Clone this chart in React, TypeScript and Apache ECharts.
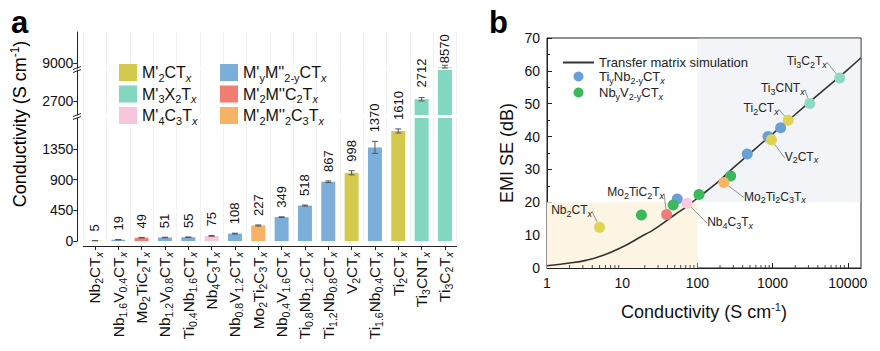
import React, { useEffect, useRef } from 'react';
import * as echarts from 'echarts';

const FONT = '"Liberation Sans", Arial, Helvetica, sans-serif';

// ---------- Panel a data ----------
const categories = [
  'Nb_{2}CT_{x}', 'Nb_{1.6}V_{0.4}CT_{x}', 'Mo_{2}TiC_{2}T_{x}', 'Nb_{1.2}V_{0.8}CT_{x}',
  'Ti_{0.4}Nb_{1.6}CT_{x}', 'Nb_{4}C_{3}T_{x}', 'Nb_{0.8}V_{1.2}CT_{x}', 'Mo_{2}Ti_{2}C_{3}T_{x}',
  'Nb_{0.4}V_{1.6}CT_{x}', 'Ti_{0.8}Nb_{1.2}CT_{x}', 'Ti_{1.2}Nb_{0.8}CT_{x}', 'V_{2}CT_{x}',
  'Ti_{1.6}Nb_{0.4}CT_{x}', 'Ti_{2}CT_{x}', 'Ti_{3}CNT_{x}', 'Ti_{3}C_{2}T_{x}',
];
const conductivity = [5, 19, 49, 51, 55, 75, 108, 227, 349, 518, 867, 998, 1370, 1610, 2712, 8570];
const conductivityError = [2, 2, 4, 4, 4, 6, 6, 8, 5, 8, 12, 30, 88, 30, 12, 200];
const familyOfCategory = [0, 3, 4, 3, 3, 2, 3, 5, 3, 3, 3, 0, 3, 0, 1, 1];
const families = [
  "M'_{2}CT_{x}", "M'_{3}X_{2}T_{x}", "M'_{4}C_{3}T_{x}",
  "M'_{y}M''_{2-y}CT_{x}", "M'_{2}M''C_{2}T_{x}", "M'_{2}M''_{2}C_{3}T_{x}",
];
const familyColors = ['#d3c94d', '#83d6c0', '#f8c6dc', '#7bafda', '#f27e73', '#f8b263'];
const lowTicks = [0, 450, 900, 1350];
const midTicks = [2700];
const topTicks = [9000];

// ---------- Panel b data ----------
const simCond = [1, 2, 3.4, 5, 9.3, 20, 26, 50, 72, 100, 180, 300, 1000, 3000, 10000, 15000];
const simSE = [0.7, 1.5, 2.4, 3.5, 6.0, 10.2, 11.6, 16.2, 18.7, 21.3, 25.8, 30.5, 40.8, 50.2, 60.4, 64.0];

const tiNbCond = [54, 460, 870, 1280];
const tiNbSE = [21.0, 34.7, 40.0, 42.7];
const nbVCond = [18, 47.6, 105, 277];
const nbVSE = [16.1, 19.2, 22.4, 28.0];
const m2Names = ['Nb_{2}CT_{x}', 'V_{2}CT_{x}', 'Ti_{2}CT_{x}'];
const m2Cond = [5, 966, 1610];
const m2SE = [12.4, 39.0, 45.0];
const m3Names = ['Ti_{3}CNT_{x}', 'Ti_{3}C_{2}T_{x}'];
const m3Cond = [3126, 7830];
const m3SE = [50.1, 57.8];
const mo2ti2Names = ['Mo_{2}Ti_{2}C_{3}T_{x}'];
const mo2ti2Cond = [225];
const mo2ti2SE = [26.0];
const nb4c3Names = ['Nb_{4}C_{3}T_{x}'];
const nb4c3Cond = [73];
const nb4c3SE = [19.7];
const mo2ticNames = ['Mo_{2}TiC_{2}T_{x}'];
const mo2ticCond = [39];
const mo2ticSE = [16.3];
const logMinorTicks = [2, 3, 4, 5, 6, 7, 8, 9, 20, 30, 40, 50, 60, 70, 80, 90,
  200, 300, 400, 500, 600, 700, 800, 900, 2000, 3000, 4000, 5000, 6000, 7000, 8000, 9000];

// label placement (layout only, px offsets from the point)
const labelOffsets: Record<string, [number, number]> = {
  'Ti_{3}C_{2}T_{x}': [-33, -17],
  'Ti_{3}CNT_{x}': [-27, -15],
  'Ti_{2}CT_{x}': [-27, -12],
  'V_{2}CT_{x}': [30, 17],
  'Mo_{2}Ti_{2}C_{3}T_{x}': [51, 14],
  'Nb_{4}C_{3}T_{x}': [43, 19],
  'Mo_{2}TiC_{2}T_{x}': [-31, -22],
  'Nb_{2}CT_{x}': [-28, -17],
};

function toRich(s: string): string {
  const parts: string[] = [];
  const re = /(_|\^)\{([^}]*)\}/g;
  let last = 0;
  let m: RegExpExecArray | null;
  while ((m = re.exec(s))) {
    if (m.index > last) parts.push(`{n|${s.slice(last, m.index)}}`);
    const t = m[2];
    if (m[1] === '^') parts.push(`{p|${t}}`);
    else parts.push(t === 'x' ? '{sx|x}' : `{s|${t}}`);
    last = re.lastIndex;
  }
  if (last < s.length) parts.push(`{n|${s.slice(last)}}`);
  return parts.join('');
}

function richStyles(base: number, sub: number, color = '#111') {
  const pad = Math.round(base * 0.6);
  return {
    n: { fontSize: base, fontFamily: FONT, color },
    s: { fontSize: sub, fontFamily: FONT, color, padding: [pad, 0, 0, 0] },
    sx: { fontSize: sub, fontFamily: FONT, color, fontStyle: 'italic', padding: [pad, 0, 0, 0] },
    p: { fontSize: sub, fontFamily: FONT, color, padding: [0, 0, pad, 0] },
  };
}

const GRID_LEFT = 83.3;
const GRID_W = 373.3;
const segs = [
  { min: 0, max: 1800, top: 118, height: 123, ticks: lowTicks, labelGap: 9 },
  { min: 2600, max: 2920, top: 70, height: 45, ticks: midTicks, labelGap: 10 },
  { min: 8500, max: 12100, top: 32, height: 36, ticks: topTicks, labelGap: 2 },
];

function buildOption(): any {
  const grids: any[] = [];
  const xAxes: any[] = [];
  const yAxes: any[] = [];
  const series: any[] = [];

  segs.forEach((seg, si) => {
    grids.push({ left: GRID_LEFT, width: GRID_W, top: seg.top, height: seg.height, outerBoundsMode: 'none' });
    xAxes.push({
      type: 'category', gridIndex: si, data: categories, boundaryGap: true,
      offset: si === 0 ? 5 : 0,
      axisLine: { show: si === 0, onZero: false, lineStyle: { color: '#222', width: 1 } },
      axisTick: { show: si === 0, alignWithLabel: true, length: 4, lineStyle: { color: '#222' } },
      axisLabel: {
        show: si === 0, interval: 0, rotate: 90, margin: 6,
        formatter: (v: string) => toRich(v), rich: richStyles(15.5, 10.5, '#111'),
      },
      splitLine: { show: true, interval: 0, lineStyle: { color: '#f1f1f1', width: 1 } },
    });
    yAxes.push({
      type: 'value', gridIndex: si, min: seg.min, max: seg.max, offset: 6,
      axisLine: { show: true, lineStyle: { color: '#222', width: 1 } },
      axisTick: { show: true, length: 4, customValues: seg.ticks, lineStyle: { color: '#222' } },
      axisLabel: {
        customValues: seg.ticks, fontSize: 14, color: '#111', margin: 4, fontFamily: FONT,
        formatter: (v: number) => String(v),
      },
      splitLine: { show: false },
    });
    families.forEach((fam, fi) => {
      series.push({
        type: 'bar', name: fam, xAxisIndex: si, yAxisIndex: si,
        barWidth: 14, barGap: '-100%', clip: true,
        itemStyle: { color: familyColors[fi] },
        data: conductivity.map((v, i) => (familyOfCategory[i] !== fi || v <= seg.min ? null : v)),
      });
    });
    const segMin = seg.min;
    const gap = seg.labelGap;
    // error bars + rotated value labels
    series.push({
      type: 'custom', xAxisIndex: si, yAxisIndex: si, silent: true, z: 5,
      encode: { x: 0, y: 1 },
      data: conductivity
        .map((v, i) => [i, v, conductivityError[i]])
        .filter((d) => d[1] > seg.min && d[1] <= seg.max),
      renderItem: (params: any, api: any) => {
        const i = api.value(0);
        const v = api.value(1);
        const e = api.value(2);
        const hi = api.coord([i, v + e]);
        const lo = api.coord([i, Math.max(v - e, segMin)]);
        const w = 3;
        const st = { stroke: '#555', lineWidth: 1 };
        return {
          type: 'group',
          children: [
            { type: 'line', shape: { x1: hi[0], y1: hi[1], x2: lo[0], y2: lo[1] }, style: st },
            { type: 'line', shape: { x1: hi[0] - w, y1: hi[1], x2: hi[0] + w, y2: hi[1] }, style: st },
            { type: 'line', shape: { x1: lo[0] - w, y1: lo[1], x2: lo[0] + w, y2: lo[1] }, style: st },
            {
              type: 'text', x: hi[0], y: hi[1] - gap, rotation: Math.PI / 2,
              style: {
                text: String(v), fontSize: 13, fontFamily: FONT, fill: '#111',
                align: 'left', verticalAlign: 'middle',
              },
            },
          ],
        };
      },
    });
  });

  // ---------- panel b ----------
  const gi = 3;
  grids.push({
    left: 547, right: 19, top: 38, bottom: 83, show: true,
    borderColor: '#222', borderWidth: 1, backgroundColor: 'transparent', outerBoundsMode: 'none',
  });
  xAxes.push({
    type: 'log', gridIndex: gi, min: 1, max: 15000, logBase: 10, splitNumber: 5,
    axisLine: { show: true, onZero: false, lineStyle: { color: '#222' } },
    axisTick: { show: true, inside: true, length: 5, lineStyle: { color: '#222' } },
    axisLabel: {
      fontSize: 14, color: '#111', margin: 8, fontFamily: FONT, showMaxLabel: false,
      formatter: (v: number) => String(Math.round(v)),
    },
    splitLine: { show: false },
    name: toRich('Conductivity (S cm^{-1})'), nameLocation: 'middle', nameGap: 33,
    nameTextStyle: { rich: richStyles(18, 11, '#111') },
  });
  yAxes.push({
    type: 'value', gridIndex: gi, min: 0, max: 70, interval: 10,
    axisLine: { show: true, onZero: false, lineStyle: { color: '#222' } },
    axisTick: { show: true, inside: true, length: 5, lineStyle: { color: '#222' } },
    minorTick: { show: true, splitNumber: 2, length: 3, lineStyle: { color: '#222' } },
    axisLabel: { fontSize: 14, color: '#111', margin: 7, fontFamily: FONT },
    splitLine: { show: false },
    name: 'EMI SE (dB)', nameLocation: 'middle', nameGap: 31,
    nameTextStyle: { fontSize: 18, color: '#111', fontFamily: FONT },
  });
  const xi = 3;
  series.push({
    type: 'line', name: 'Transfer matrix simulation', xAxisIndex: xi, yAxisIndex: xi,
    data: simCond.map((c, i) => [c, simSE[i]]), smooth: true, symbol: 'none', showSymbol: false, z: 3,
    lineStyle: { color: '#333', width: 1.6 }, itemStyle: { color: '#333' },
    markArea: {
      silent: true,
      data: [
        [{ coord: [1, 0], itemStyle: { color: '#fcf5e3' } }, { coord: [100, 20] }],
        [{ coord: [100, 20], itemStyle: { color: '#f3f4f7' } }, { coord: [14650, 69.8] }],
      ],
    },
  });
  series.push({
    type: 'scatter', name: 'minorTicks', xAxisIndex: xi, yAxisIndex: xi, silent: true, clip: false,
    symbol: 'rect', symbolSize: [1, 3], symbolOffset: [0, -1.5], z: 6,
    itemStyle: { color: '#222' },
    data: logMinorTicks.map((t) => [t, 0]),
  });

  const scatterGroups: { name: string; color: string; cond: number[]; se: number[]; labels: string[] }[] = [
    { name: 'Ti_{y}Nb_{2-y}CT_{x}', color: '#6a9fd6', cond: tiNbCond, se: tiNbSE, labels: [] },
    { name: 'Nb_{y}V_{2-y}CT_{x}', color: '#3cb85c', cond: nbVCond, se: nbVSE, labels: [] },
    { name: families[0], color: '#e0d352', cond: m2Cond, se: m2SE, labels: m2Names },
    { name: families[1], color: '#8cdac6', cond: m3Cond, se: m3SE, labels: m3Names },
    { name: families[5], color: '#f5b565', cond: mo2ti2Cond, se: mo2ti2SE, labels: mo2ti2Names },
    { name: families[2], color: '#f8c9dc', cond: nb4c3Cond, se: nb4c3SE, labels: nb4c3Names },
    { name: families[4], color: '#f07b7b', cond: mo2ticCond, se: mo2ticSE, labels: mo2ticNames },
  ];
  scatterGroups.forEach((g) => {
    const offs = g.cond.map((_, i) => (g.labels[i] ? labelOffsets[g.labels[i]] : null));
    series.push({
      type: 'scatter', name: g.name, xAxisIndex: xi, yAxisIndex: xi, symbolSize: 11, z: 8,
      itemStyle: { color: g.color, opacity: 1 },
      data: g.cond.map((c, i) => ({
        value: [c, g.se[i]],
        label: g.labels[i]
          ? { show: true, formatter: toRich(g.labels[i]) }
          : { show: false },
      })),
      label: {
        show: false, position: 'inside', rich: richStyles(12, 9, '#222'),
      },
      labelLine: { show: true, lineStyle: { color: '#777', width: 0.8 } },
      labelLayout: (p: any) => {
        const o = offs[p.dataIndex];
        return o ? { dx: o[0], dy: o[1] } : {};
      },
    });
  });

  return {
    animation: false,
    backgroundColor: '#fff',
    textStyle: { fontFamily: FONT },
    grid: grids,
    xAxis: xAxes,
    yAxis: yAxes,
    legend: [
      {
        orient: 'vertical', left: 114, top: 59, itemWidth: 18, itemHeight: 17, itemGap: 2.5,
        icon: 'rect', selectedMode: false,
        data: families.slice(0, 3),
        formatter: (n: string) => toRich(n), textStyle: { rich: richStyles(16, 11, '#111') },
      },
      {
        orient: 'vertical', left: 215, top: 59, itemWidth: 18, itemHeight: 17, itemGap: 2.5,
        icon: 'rect', selectedMode: false,
        data: families.slice(3, 6),
        formatter: (n: string) => toRich(n), textStyle: { rich: richStyles(16, 11, '#111') },
      },
      {
        orient: 'vertical', left: 557, top: 51, itemWidth: 31, itemHeight: 10, itemGap: 1,
        selectedMode: false,
        data: [
          { name: 'Transfer matrix simulation', itemStyle: { opacity: 0 } },
          'Ti_{y}Nb_{2-y}CT_{x}', 'Nb_{y}V_{2-y}CT_{x}',
        ],
        formatter: (n: string) => toRich(n), textStyle: { rich: richStyles(13, 9, '#222') },
      },
    ],
    graphic: [
      { type: 'text', x: 11, y: 22.5, style: { text: 'a', fontSize: 31, fontWeight: 'bold', fontFamily: FONT, fill: '#000', verticalAlign: 'middle' } },
      { type: 'text', x: 489, y: 22.5, style: { text: 'b', fontSize: 31, fontWeight: 'bold', fontFamily: FONT, fill: '#000', verticalAlign: 'middle' } },
      {
        type: 'text', x: 20, y: 124, rotation: Math.PI / 2,
        style: { text: toRich('Conductivity (S cm^{-1})'), rich: richStyles(18, 12, '#111'), align: 'center', verticalAlign: 'middle' },
      },
      { type: 'line', shape: { x1: 73, y1: 69.5, x2: 81, y2: 66.5 }, style: { stroke: '#222', lineWidth: 1 } },
      { type: 'line', shape: { x1: 73, y1: 72.5, x2: 81, y2: 69.5 }, style: { stroke: '#222', lineWidth: 1 } },
      { type: 'line', shape: { x1: 73, y1: 116.5, x2: 81, y2: 113.5 }, style: { stroke: '#222', lineWidth: 1 } },
      { type: 'line', shape: { x1: 73, y1: 119.5, x2: 81, y2: 116.5 }, style: { stroke: '#222', lineWidth: 1 } },
    ],
    series,
  };
}

export default function App() {
  const ref = useRef<HTMLDivElement>(null);
  useEffect(() => {
    if (!ref.current) return;
    const chart = echarts.init(ref.current, null, { renderer: 'svg' });
    chart.setOption(buildOption());
    return () => chart.dispose();
  }, []);
  return (
    <div
      ref={ref}
      style={{ position: 'fixed', left: 0, top: 0, width: 880, height: 351, background: '#fff' }}
    />
  );
}
